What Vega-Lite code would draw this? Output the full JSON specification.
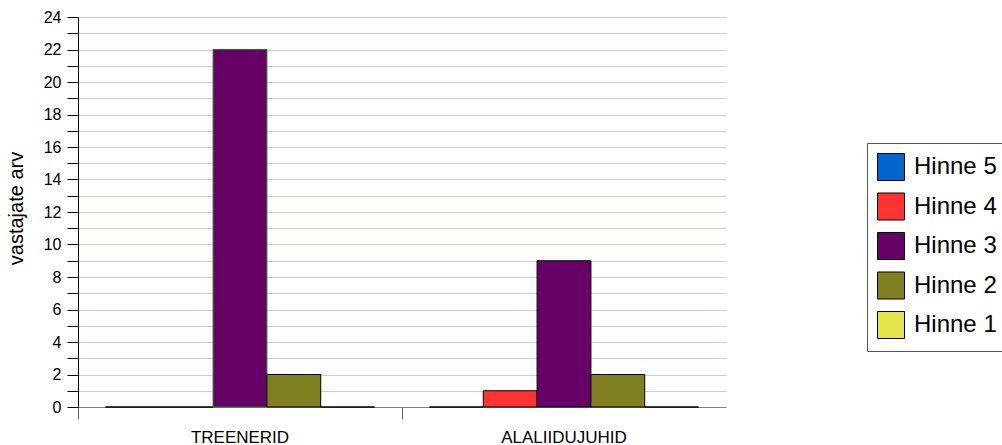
{
  "$schema": "https://vega.github.io/schema/vega-lite/v6.json",
  "width": 648,
  "height": 390,
  "autosize": "none",
  "padding": {"left": 78, "top": 17, "right": 276, "bottom": 38},
  "background": "white",
  "config": {
    "font": "Liberation Sans",
    "view": {"stroke": null}
  },
  "data": {
    "values": [
      {"group": "TREENERID", "series": "Hinne 5", "value": 0},
      {"group": "TREENERID", "series": "Hinne 4", "value": 0},
      {"group": "TREENERID", "series": "Hinne 3", "value": 22},
      {"group": "TREENERID", "series": "Hinne 2", "value": 2},
      {"group": "TREENERID", "series": "Hinne 1", "value": 0},
      {"group": "ALALIIDUJUHID", "series": "Hinne 5", "value": 0},
      {"group": "ALALIIDUJUHID", "series": "Hinne 4", "value": 1},
      {"group": "ALALIIDUJUHID", "series": "Hinne 3", "value": 9},
      {"group": "ALALIIDUJUHID", "series": "Hinne 2", "value": 2},
      {"group": "ALALIIDUJUHID", "series": "Hinne 1", "value": 0}
    ]
  },
  "mark": {"type": "bar", "strokeWidth": 1},
  "encoding": {
    "x": {
      "field": "group",
      "type": "nominal",
      "sort": ["TREENERID", "ALALIIDUJUHID"],
      "scale": {"paddingInner": 0, "paddingOuter": 0},
      "axis": {
        "title": null,
        "labelAngle": 0,
        "bandPosition": 0,
        "labelFontSize": 17,
        "labelColor": "black",
        "labelPadding": 10,
        "tickSize": 12,
        "tickColor": "#666666",
        "domainColor": "#808080",
        "grid": false
      }
    },
    "xOffset": {
      "field": "series",
      "type": "nominal",
      "sort": ["Hinne 5", "Hinne 4", "Hinne 3", "Hinne 2", "Hinne 1"],
      "scale": {"paddingInner": 0, "paddingOuter": 0.51}
    },
    "y": {
      "field": "value",
      "type": "quantitative",
      "stack": null,
      "scale": {"domain": [0, 24], "nice": false},
      "axis": {
        "title": "vastajate arv",
        "titleFontSize": 20,
        "titleFontWeight": "normal",
        "titleColor": "black",
        "titleX": -52,
        "titleY": 191,
        "values": [0,1,2,3,4,5,6,7,8,9,10,11,12,13,14,15,16,17,18,19,20,21,22,23,24],
        "labelExpr": "datum.value % 2 == 0 ? datum.label : ''",
        "labelFontSize": 16,
        "labelColor": "black",
        "labelPadding": 6,
        "tickSize": 11,
        "tickColor": "black",
        "domainColor": "black",
        "gridColor": "#c8c8f8",
        "gridOpacity": 1
      }
    },
    "color": {
      "field": "series",
      "type": "nominal",
      "scale": {
        "domain": ["Hinne 5", "Hinne 4", "Hinne 3", "Hinne 2", "Hinne 1"],
        "range": ["#0066cc", "#ff3333", "#660066", "#808020", "#e6e64c"]
      },
      "legend": {
        "title": null,
        "orient": "none",
        "legendX": 789,
        "legendY": 126,
        "padding": 10,
        "strokeColor": "#555555",
        "fillColor": "white",
        "symbolType": "square",
        "symbolSize": 729,
        "symbolStrokeColor": "black",
        "symbolStrokeWidth": 1,
        "symbolOpacity": 1,
        "labelFontSize": 24,
        "labelColor": "black",
        "labelOffset": 9,
        "rowPadding": 7.5
      }
    },
    "stroke": {
      "condition": {
        "test": "datum.group === 'TREENERID' && datum.series === 'Hinne 3'",
        "value": "#1a7a1a"
      },
      "value": "black"
    }
  }
}
